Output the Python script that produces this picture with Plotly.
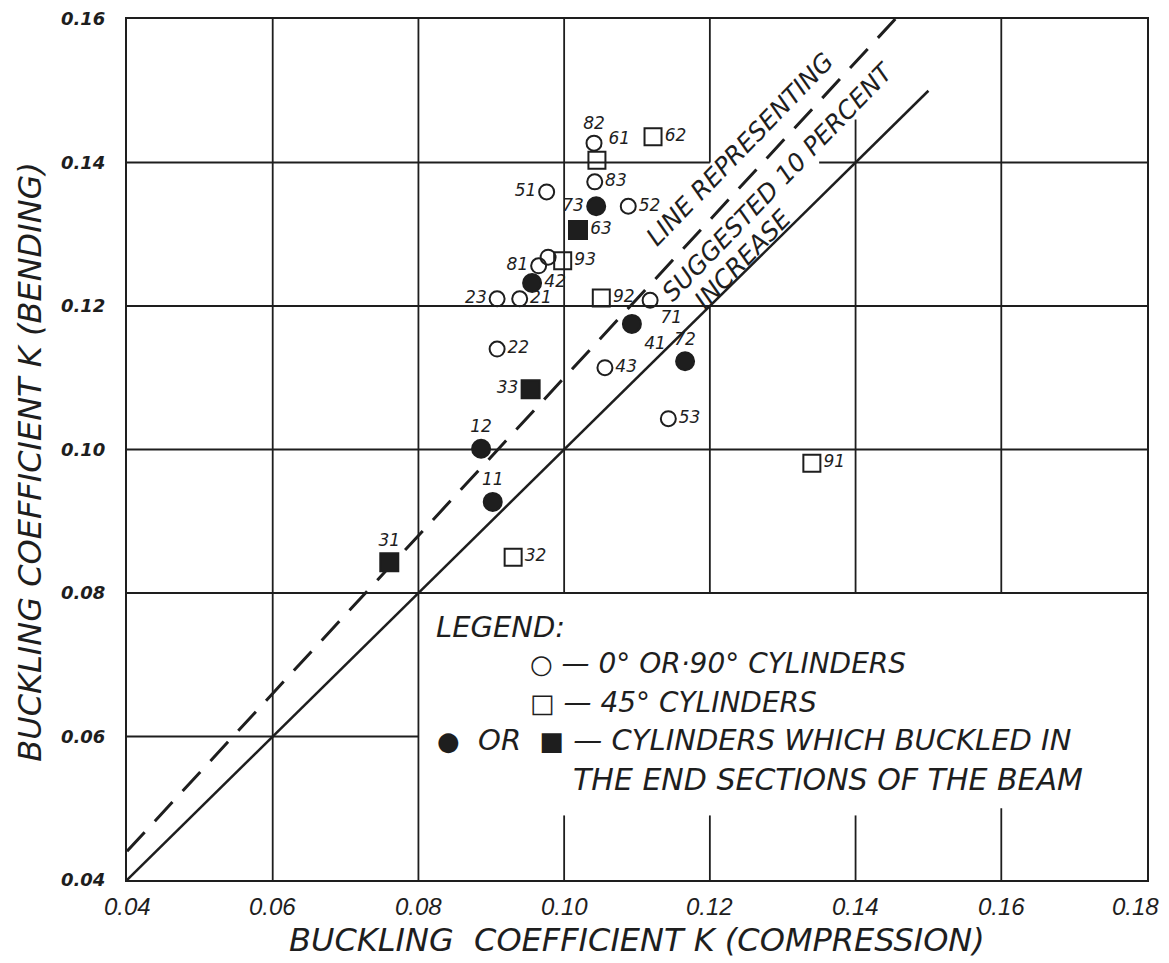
import plotly.graph_objects as go

# ---------------- data ----------------
open_circle_labels = ["82", "83", "51", "52", "", "81", "23", "21", "71", "22", "43", "53"]
open_circle_x = [0.1041, 0.1042, 0.0976, 0.1088, 0.0978, 0.0965, 0.0908, 0.0939, 0.1118, 0.0908, 0.1056, 0.1143]
open_circle_y = [0.1427, 0.1373, 0.1359, 0.1339, 0.1268, 0.1256, 0.1210, 0.1210, 0.1208, 0.1140, 0.1114, 0.1043]
open_circle_pos = ["top center", "middle right", "middle left", "middle right", "middle right",
                   "middle left", "middle left", "middle right", "bottom right", "middle right",
                   "middle right", "middle right"]

open_square_labels = ["61", "62", "93", "92", "32", "91"]
open_square_x = [0.1045, 0.1122, 0.0998, 0.1051, 0.0930, 0.1340]
open_square_y = [0.1403, 0.1436, 0.1263, 0.1211, 0.0850, 0.0981]
open_square_pos = ["top right", "middle right", "middle right", "middle right", "middle right", "middle right"]

filled_circle_labels = ["73", "42", "41", "72", "12", "11"]
filled_circle_x = [0.1044, 0.0956, 0.1093, 0.1166, 0.0886, 0.0902]
filled_circle_y = [0.1339, 0.1232, 0.1175, 0.1123, 0.1001, 0.0927]
filled_circle_pos = ["middle left", "middle right", "bottom right", "top center", "top center", "top center"]

filled_square_labels = ["63", "33", "31"]
filled_square_x = [0.1019, 0.0954, 0.0760]
filled_square_y = [0.1306, 0.1084, 0.0843]
filled_square_pos = ["middle right", "middle left", "top center"]

ref_x = [0.04, 0.15]            # line k_bend = k_comp
dash_x = [0.04, 0.16 / 1.1]     # line k_bend = 1.1 k_comp (suggested 10 percent increase)
increase = 1.1

x_ticks = [0.04, 0.06, 0.08, 0.10, 0.12, 0.14, 0.16, 0.18]
y_ticks = [0.04, 0.06, 0.08, 0.10, 0.12, 0.14, 0.16]

INK = "#1e1e1e"
FONT = "DejaVu Sans, Liberation Sans, sans-serif"

fig = go.Figure()

# reference lines
fig.add_trace(go.Scatter(x=ref_x, y=ref_x, mode="lines",
                         line=dict(color=INK, width=2.5), hoverinfo="skip", showlegend=False))
fig.add_trace(go.Scatter(x=dash_x, y=[v * increase for v in dash_x], mode="lines",
                         line=dict(color=INK, width=3, dash="26px,15px"), hoverinfo="skip", showlegend=False))

label_font = dict(family=FONT, size=17, color=INK, style="italic")


def add_points(xs, ys, labels, pos, symbol, size, name):
    fig.add_trace(go.Scatter(
        x=xs, y=ys, mode="markers+text", text=labels, textposition=pos,
        textfont=label_font, name=name, showlegend=False, cliponaxis=False,
        marker=dict(symbol=symbol, size=size, color=INK, line=dict(color=INK, width=2)),
    ))


add_points(open_circle_x, open_circle_y, open_circle_labels, open_circle_pos, "circle-open", 15, "0° or 90° cylinders")
add_points(open_square_x, open_square_y, open_square_labels, open_square_pos, "square-open", 17, "45° cylinders")
add_points(filled_circle_x, filled_circle_y, filled_circle_labels, filled_circle_pos, "circle", 18, "buckled in end sections (circle)")
add_points(filled_square_x, filled_square_y, filled_square_labels, filled_square_pos, "square", 18, "buckled in end sections (square)")

# hand-drawn style grid (segments with gaps like the original)
grid_lw = 1.8
v_segments = [
    (0.06, 0.04, 0.16), (0.08, 0.04, 0.16), (0.10, 0.08, 0.16), (0.10, 0.04, 0.049),
    (0.12, 0.14, 0.16), (0.12, 0.08, 0.12), (0.12, 0.04, 0.049),
    (0.14, 0.08, 0.146), (0.14, 0.04, 0.049),
    (0.16, 0.08, 0.16), (0.16, 0.04, 0.05),
]
h_segments = [
    (0.14, 0.04, 0.12), (0.14, 0.135, 0.18),
    (0.12, 0.04, 0.18), (0.10, 0.04, 0.18), (0.08, 0.04, 0.18), (0.06, 0.04, 0.08),
]
for xv, y0, y1 in v_segments:
    fig.add_shape(type="line", x0=xv, x1=xv, y0=y0, y1=y1, xref="x", yref="y",
                  line=dict(color=INK, width=grid_lw), layer="below")
for yv, x0, x1 in h_segments:
    fig.add_shape(type="line", x0=x0, x1=x1, y0=yv, y1=yv, xref="x", yref="y",
                  line=dict(color=INK, width=grid_lw), layer="below")

# slanted annotation along the lines
slant_font = dict(family=FONT, size=25, color=INK, style="italic")
for txt, ax_, ay_ in [("LINE REPRESENTING", 0.1241, 0.1418),
                      ("SUGGESTED 10 PERCENT", 0.1294, 0.1373),
                      ("INCREASE", 0.1245, 0.1265)]:
    fig.add_annotation(x=ax_, y=ay_, text=txt, showarrow=False, textangle=-46,
                       font=slant_font, xref="x", yref="y")

# legend block
sym = "<span style='font-size:26px'>{}</span>"
legend_lines = [
    ("LEGEND:", 0.0821, 0.0753, 29),
    (sym.format("○") + " — 0° OR·90° CYLINDERS", 0.0951, 0.0702, 28),
    (sym.format("□") + " — 45° CYLINDERS", 0.0951, 0.0647, 28),
    (sym.format("●") + "  OR  " + sym.format("■") + " — CYLINDERS WHICH BUCKLED IN", 0.0823, 0.0595, 29),
    ("THE END SECTIONS OF THE BEAM", 0.1010, 0.0540, 30),
]
for txt, lx, ly, fs in legend_lines:
    fig.add_annotation(x=lx, y=ly, text=txt, showarrow=False, xanchor="left", yanchor="middle",
                       font=dict(family=FONT, size=fs, color=INK, style="italic"), xref="x", yref="y")

# x tick labels (hand-lettered look; last one kept inside the page)
for i, v in enumerate(x_ticks):
    last = i == len(x_ticks) - 1
    fig.add_annotation(x=v, y=0, xref="x", yref="paper", yshift=-26, showarrow=False,
                       text=f"{v:.2f}", xanchor="right" if last else "center",
                       xshift=14 if last else 0, yanchor="middle",
                       font=dict(family="Liberation Sans, DejaVu Sans, sans-serif", size=24,
                                 color=INK, style="italic"))

# axis titles (hand-placed like the original)
fig.add_annotation(x=0.5, y=0, xref="paper", yref="paper", yshift=-60, showarrow=False,
                   text="BUCKLING  COEFFICIENT K (COMPRESSION)",
                   font=dict(family=FONT, size=32, color=INK, style="italic"),
                   xanchor="center", yanchor="middle")
fig.add_annotation(x=0, y=0.0983, xref="paper", yref="y", xshift=-97, showarrow=False,
                   text="BUCKLING COEFFICIENT K (BENDING)",
                   font=dict(family=FONT, size=32, color=INK, style="italic"), textangle=-90,
                   xanchor="center", yanchor="middle")

fig.update_xaxes(range=[0.04, 0.18], tickvals=x_ticks, showticklabels=False,
                 showgrid=False, zeroline=False, showline=True, mirror=True, automargin=False,
                 linecolor=INK, linewidth=2, ticks="")
fig.update_yaxes(range=[0.04, 0.16], tickvals=y_ticks, ticktext=[f"{v:.2f}" for v in y_ticks],
                 showgrid=False, zeroline=False, showline=True, mirror=True, automargin=False,
                 linecolor=INK, linewidth=2, ticks="", ticklabelstandoff=16,
                 tickfont=dict(family=FONT, size=18, color=INK, style="italic", weight="bold"))

fig.update_layout(width=1169, height=963, margin=dict(l=119, r=30, t=11, b=91),
                  plot_bgcolor="white", paper_bgcolor="white", showlegend=False)

fig.write_html("out.html")
